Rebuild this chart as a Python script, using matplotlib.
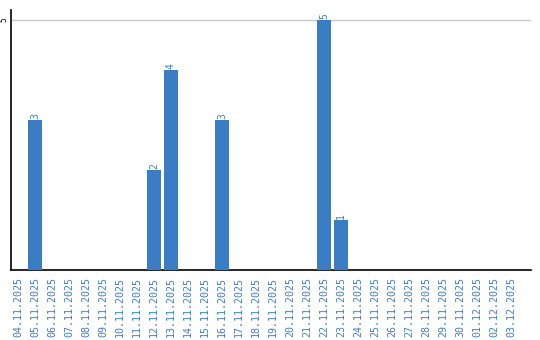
import matplotlib
matplotlib.use("Agg")
import matplotlib.pyplot as plt
import numpy as np

dates = ["04.11.2025", "05.11.2025", "06.11.2025", "07.11.2025", "08.11.2025",
         "09.11.2025", "10.11.2025", "11.11.2025", "12.11.2025", "13.11.2025",
         "14.11.2025", "15.11.2025", "16.11.2025", "17.11.2025", "18.11.2025",
         "19.11.2025", "20.11.2025", "21.11.2025", "22.11.2025", "23.11.2025",
         "24.11.2025", "25.11.2025", "26.11.2025", "27.11.2025", "28.11.2025",
         "29.11.2025", "30.11.2025", "01.12.2025", "02.12.2025", "03.12.2025"]
values = [0, 3, 0, 0, 0, 0, 0, 0, 2, 4,
          0, 0, 3, 0, 0, 0, 0, 0, 5, 1,
          0, 0, 0, 0, 0, 0, 0, 0, 0, 0]
y_ticks = [5]

bar_color = "#3b7dc4"
label_color = "#3d7ec4"
mono = "DejaVu Sans Mono"

fig = plt.figure(figsize=(5.4, 3.4), dpi=100)
ax = fig.add_axes([11/540, 1 - 270/340, 520/540, 260/340])

x = np.arange(len(dates))
bars = ax.bar(x, values, width=0.82, color=bar_color, zorder=3)

for xi, v in zip(x, values):
    if v > 0:
        ax.annotate(str(v), (xi, v), xytext=(0, 1), textcoords="offset points",
                    rotation=90, ha="center", va="bottom", fontsize=7,
                    color=label_color, family=mono)

ax.set_xlim(-0.41, 30.18)
ax.set_ylim(0, 5.2)
ax.set_xticks(x)
ax.set_xticklabels(dates, rotation=90, fontsize=7.2, color=label_color, family=mono)
ax.set_yticks(y_ticks)
ax.set_yticklabels([str(t) for t in y_ticks], rotation=90, fontsize=5.5,
                   color="black", family=mono, va="center")
ax.tick_params(axis="both", length=0)
ax.tick_params(axis="x", pad=5)
ax.tick_params(axis="y", pad=1.5)

ax.grid(axis="y", color="#c8c8c8", linewidth=1, zorder=0)
for s in ["top", "right"]:
    ax.spines[s].set_visible(False)
for s in ["left", "bottom"]:
    ax.spines[s].set_color("black")
    ax.spines[s].set_linewidth(1.2)

fig.savefig("out.png", dpi=100)
